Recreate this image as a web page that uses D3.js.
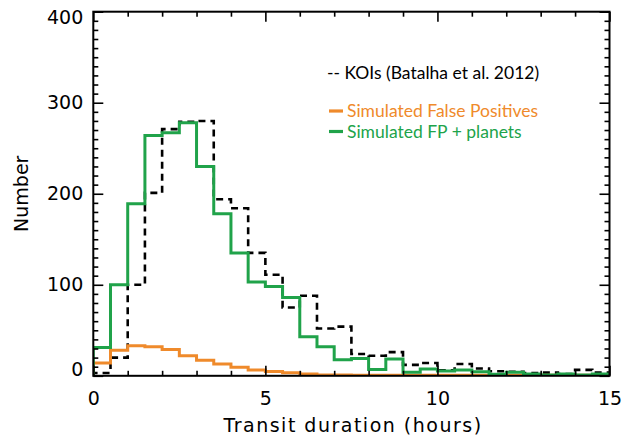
<!DOCTYPE html>
<html><head><meta charset="utf-8">
<script src="https://cdn.jsdelivr.net/npm/d3@7"></script>
<style>
html,body{margin:0;padding:0;background:#fff;}
svg{display:block;}
</style></head>
<body>
<svg id="chart" width="636" height="437"></svg>
<script>
// Bin left edges (hours), bin width 0.5 h
const binEdges = d3.range(0, 15, 0.5);
const binWidth = 0.5;
const koiCounts = [3, 20, 100, 201, 271, 279, 280, 194, 184, 135, 111, 75, 88, 52, 54, 24, 22, 26, 12, 14, 6, 13, 8, 5, 4.5, 3, 3.5, 2, 6.5, 3.5];
const fpCounts  = [14, 28, 33, 32, 29, 22, 17, 13, 9.3, 6.4, 4.7, 3.4, 2, 1, 0.8, 0.6, 0.5, 0.5, 0.5, 0.5, 0.5, 0.5, 0.5, 0.5, 0.5, 0.5, 0.5, 0.5, 0.5, 0.5];
const fpPlanetCounts = [31, 100, 189, 264, 267, 278, 230, 178, 135, 103, 98, 86, 43, 32, 17.5, 19, 7, 18.5, 4, 7.5, 5.3, 6.4, 4.5, 1.6, 3.8, 2, 1, 2, 1, 2];
const xTicks = [0, 5, 10, 15];
const yTicks = [0, 100, 200, 300, 400];
const legendLabels = ["-- KOIs (Batalha et al. 2012)", "Simulated False Positives", "Simulated FP + planets"];
const colors = {koi: "#000000", fp: "#ef8a2b", fpp: "#20a34a"};

const W = 636, H = 437;
const m = {left: 93.3, right: 26.5, top: 11.7, bottom: 61.2};
const svg = d3.select("#chart");
const x = d3.scaleLinear().domain([0, 15]).range([m.left, W - m.right]);
const y = d3.scaleLinear().domain([0, 400]).range([H - m.bottom, m.top]);

svg.append("defs").append("clipPath").attr("id", "clip")
  .append("rect").attr("x", m.left).attr("y", m.top)
  .attr("width", x(15) - x(0)).attr("height", y(0) - y(400));

function stepPoints(vals) {
  const pts = [[0, 0]];
  vals.forEach((v, i) => pts.push([binEdges[i], v]));
  pts.push([binEdges[vals.length - 1] + binWidth, vals[vals.length - 1]]);
  return pts;
}
const line = d3.line().x(d => x(d[0])).y(d => y(d[1])).curve(d3.curveStepAfter);

const g = svg.append("g").attr("clip-path", "url(#clip)");
g.append("path").datum(stepPoints(koiCounts)).attr("d", line)
  .attr("fill", "none").attr("stroke", colors.koi).attr("stroke-width", 2.6)
  .attr("stroke-dasharray", "7,5");
g.append("path").datum(stepPoints(fpCounts)).attr("d", line)
  .attr("fill", "none").attr("stroke", colors.fp).attr("stroke-width", 3);
g.append("path").datum(stepPoints(fpPlanetCounts)).attr("d", line)
  .attr("fill", "none").attr("stroke", colors.fpp).attr("stroke-width", 3);

// Axes (ticks inward, on all four sides)
const font = "'DejaVu Sans', sans-serif";
function styleAxis(sel) {
  sel.selectAll(".domain").remove();
  sel.selectAll("line").attr("stroke", "#000").attr("stroke-width", 1.6);
}
const xMinor = d3.range(0, 16, 1).filter(v => v % 5 !== 0);
const yMinor = d3.range(0, 401, 10).filter(v => v % 100 !== 0);

// bottom
svg.append("g").attr("transform", `translate(0,${y(0)})`)
  .call(d3.axisBottom(x).tickValues(xTicks).tickSize(-10).tickPadding(16).tickFormat(d3.format("d")))
  .call(styleAxis)
  .call(s => s.selectAll("text").attr("font-family", font).attr("font-size", 19).attr("fill", "#000"));
svg.append("g").attr("transform", `translate(0,${y(0)})`)
  .call(d3.axisBottom(x).tickValues(xMinor).tickSize(-5).tickFormat(""))
  .call(styleAxis);
// top
svg.append("g").attr("transform", `translate(0,${y(400)})`)
  .call(d3.axisTop(x).tickValues(xTicks).tickSize(-10).tickFormat(""))
  .call(styleAxis);
svg.append("g").attr("transform", `translate(0,${y(400)})`)
  .call(d3.axisTop(x).tickValues(xMinor).tickSize(-5).tickFormat(""))
  .call(styleAxis);
// left
svg.append("g").attr("transform", `translate(${x(0)},0)`)
  .call(d3.axisLeft(y).tickValues(yTicks).tickSize(-10).tickPadding(10).tickFormat(d3.format("d")))
  .call(styleAxis)
  .call(s => s.selectAll("text").attr("font-family", font).attr("font-size", 19).attr("fill", "#000")
    .attr("dy", d => d === 0 ? "-0.0em" : d === 400 ? "0.62em" : "0.32em"));
svg.append("g").attr("transform", `translate(${x(0)},0)`)
  .call(d3.axisLeft(y).tickValues(yMinor).tickSize(-5).tickFormat(""))
  .call(styleAxis);
// right
svg.append("g").attr("transform", `translate(${x(15)},0)`)
  .call(d3.axisRight(y).tickValues(yTicks).tickSize(-10).tickFormat(""))
  .call(styleAxis);
svg.append("g").attr("transform", `translate(${x(15)},0)`)
  .call(d3.axisRight(y).tickValues(yMinor).tickSize(-5).tickFormat(""))
  .call(styleAxis);

// frame
svg.append("rect").attr("x", x(0)).attr("y", y(400))
  .attr("width", x(15) - x(0)).attr("height", y(0) - y(400))
  .attr("fill", "none").attr("stroke", "#000").attr("stroke-width", 2);

// axis titles
svg.append("text").attr("x", 353).attr("y", 432)
  .attr("text-anchor", "middle").attr("font-family", font).attr("font-size", 19)
  .attr("letter-spacing", 1.5).text("Transit duration (hours)");
svg.append("text").attr("transform", `translate(28,${(y(0) + y(400)) / 2}) rotate(-90)`)
  .attr("text-anchor", "middle").attr("font-family", font).attr("font-size", 19)
  .text("Number");

// legend
const lfont = "Lato, 'Open Sans', sans-serif";
svg.append("text").attr("x", 327).attr("y", 78.5).attr("font-family", lfont).attr("font-size", 17.5)
  .attr("fill", colors.koi).text(legendLabels[0]);
const leg = [[legendLabels[1], colors.fp, 117, 111], [legendLabels[2], colors.fpp, 137.5, 131.5]];
leg.forEach(([t, c, by, ly]) => {
  svg.append("line").attr("x1", 329).attr("x2", 343).attr("y1", ly).attr("y2", ly)
    .attr("stroke", c).attr("stroke-width", 3.2);
  svg.append("text").attr("x", 347).attr("y", by).attr("font-family", lfont).attr("font-size", 17.5)
    .attr("fill", c).text(t);
});
</script>
</body></html>
